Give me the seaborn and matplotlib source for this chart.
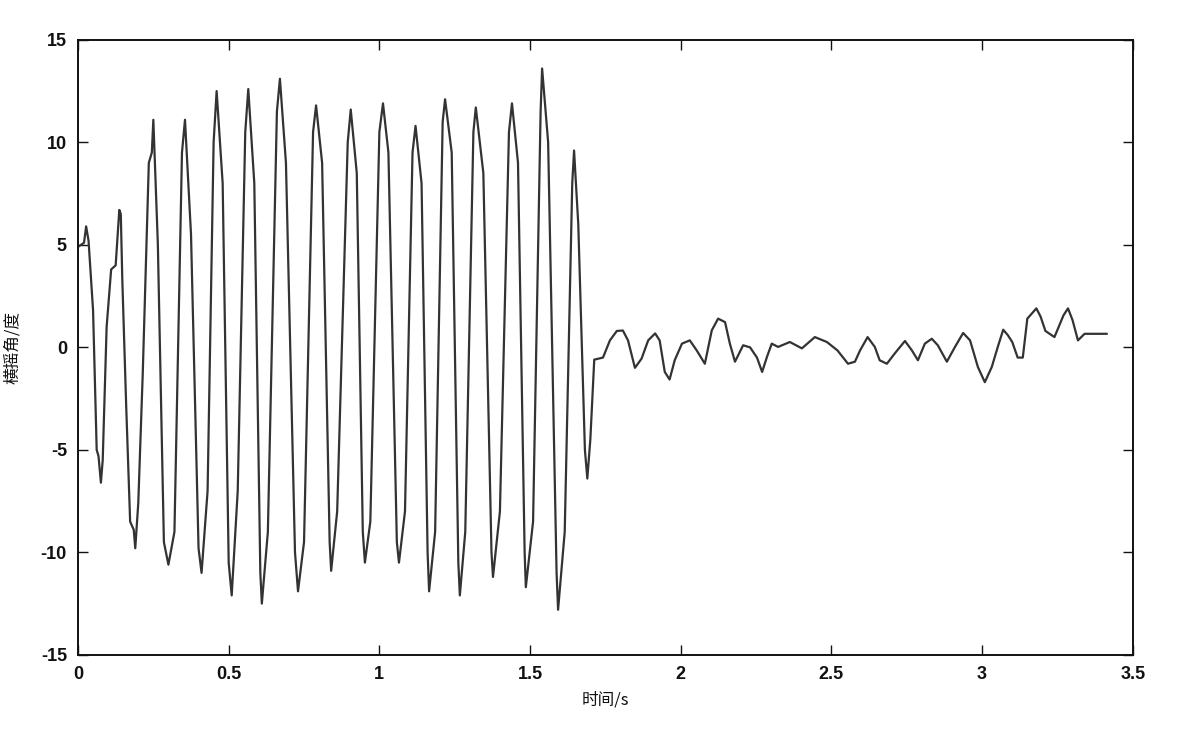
import matplotlib
matplotlib.use("Agg")
import matplotlib.pyplot as plt
import seaborn as sns
import pandas as pd

# time (s) and roll angle (deg)
# large-amplitude part (0 - 1.715 s)
time_big = [0.000, 0.020, 0.027, 0.035, 0.050, 0.062, 0.068, 0.076, 0.082, 0.095,
            0.110, 0.125, 0.137, 0.142, 0.147, 0.160, 0.173, 0.185, 0.190, 0.200,
            0.215, 0.235, 0.245, 0.250, 0.265, 0.285, 0.300, 0.320, 0.345, 0.355,
            0.375, 0.400, 0.410, 0.430, 0.450, 0.460, 0.480, 0.500, 0.510, 0.530,
            0.555, 0.565, 0.585, 0.605, 0.610, 0.630, 0.660, 0.670, 0.690, 0.720,
            0.730, 0.750, 0.780, 0.790, 0.810, 0.835, 0.840, 0.860, 0.895, 0.905,
            0.925, 0.945, 0.952, 0.970, 1.000, 1.012, 1.030, 1.058, 1.065, 1.085,
            1.110, 1.120, 1.140, 1.160, 1.165, 1.185, 1.210, 1.218, 1.240, 1.262,
            1.267, 1.285, 1.312, 1.320, 1.345, 1.372, 1.377, 1.400, 1.430, 1.440,
            1.460, 1.482, 1.486, 1.510, 1.535, 1.540, 1.560, 1.588, 1.593, 1.615,
            1.640, 1.646, 1.660, 1.682, 1.690, 1.700, 1.713]
roll_big = [4.9, 5.1, 5.9, 5.2, 1.8, -5.0, -5.3, -6.6, -5.5, 1.0,
            3.8, 4.0, 6.7, 6.5, 3.3, -2.9, -8.5, -8.9, -9.8, -7.6,
            -1.2, 9.0, 9.5, 11.1, 5.0, -9.5, -10.6, -9.0, 9.5, 11.1,
            5.5, -9.8, -11.0, -7.0, 10.0, 12.5, 8.0, -10.5, -12.1, -7.0,
            10.5, 12.6, 8.0, -11.0, -12.5, -9.0, 11.5, 13.1, 9.0, -10.0,
            -11.9, -9.5, 10.5, 11.8, 9.0, -9.5, -10.9, -8.0, 10.0, 11.6,
            8.5, -9.0, -10.5, -8.5, 10.5, 11.9, 9.5, -9.5, -10.5, -8.0,
            9.5, 10.8, 8.0, -10.0, -11.9, -9.0, 11.0, 12.1, 9.5, -10.5,
            -12.1, -9.0, 10.5, 11.7, 8.5, -10.0, -11.2, -8.0, 10.5, 11.9,
            9.0, -10.0, -11.7, -8.5, 11.5, 13.6, 10.0, -11.0, -12.8, -9.0,
            8.0, 9.6, 6.0, -5.0, -6.4, -4.5, -0.6]

# small-amplitude part (1.715 - 3.414 s)
time_small = [1.742, 1.765, 1.788, 1.808, 1.825, 1.848, 1.870, 1.892, 1.915, 1.930,
              1.947, 1.963, 1.980, 2.004, 2.030, 2.053, 2.080, 2.103, 2.124, 2.147,
              2.163, 2.180, 2.207, 2.230, 2.253, 2.270, 2.286, 2.302, 2.323, 2.362,
              2.402, 2.445, 2.485, 2.520, 2.555, 2.578, 2.595, 2.620, 2.644, 2.660,
              2.684, 2.710, 2.744, 2.767, 2.787, 2.810, 2.833, 2.853, 2.883, 2.910,
              2.937, 2.960, 2.986, 3.009, 3.032, 3.052, 3.070, 3.085, 3.100, 3.118,
              3.135, 3.150, 3.180, 3.194, 3.210, 3.240, 3.270, 3.285, 3.300, 3.318,
              3.340, 3.414]
roll_small = [-0.5, 0.34, 0.8, 0.82, 0.34, -1.0, -0.55, 0.34, 0.68, 0.34,
              -1.2, -1.57, -0.63, 0.18, 0.34, -0.15, -0.8, 0.83, 1.4, 1.23,
              0.18, -0.7, 0.1, 0.0, -0.5, -1.2, -0.47, 0.18, 0.02, 0.26,
              -0.05, 0.5, 0.26, -0.15, -0.8, -0.7, -0.15, 0.5, 0.02, -0.63,
              -0.8, -0.3, 0.31, -0.15, -0.63, 0.18, 0.42, 0.1, -0.7, 0.02,
              0.7, 0.34, -0.96, -1.7, -0.96, 0.02, 0.86, 0.6, 0.26, -0.5,
              -0.5, 1.4, 1.9, 1.5, 0.8, 0.5, 1.56, 1.9, 1.33, 0.34,
              0.66, 0.66]

x_ticks = [0, 0.5, 1, 1.5, 2, 2.5, 3, 3.5]
x_tick_labels = ["0", "0.5", "1", "1.5", "2", "2.5", "3", "3.5"]
y_ticks = [-15, -10, -5, 0, 5, 10, 15]
y_tick_labels = ["-15", "-10", "-5", "0", "5", "10", "15"]
x_label = "时间/s"
y_label = "横摇角/度"

df = pd.DataFrame({"t": time_big + time_small, "roll": roll_big + roll_small})

sns.set_theme(style="white")
plt.rcParams["font.family"] = ["Noto Sans CJK SC", "DejaVu Sans"]

fig = plt.figure(figsize=(12, 7.51), dpi=100)
ax = fig.add_axes([0.065, 0.128, 0.879, 0.819])

sns.lineplot(data=df, x="t", y="roll", sort=False, estimator=None,
             color="#333333", linewidth=1.6, ax=ax)

ax.set_xlim(0, 3.5)
ax.set_ylim(-15, 15)
ax.set_xticks(x_ticks)
ax.set_xticklabels(x_tick_labels, fontsize=13, fontweight="bold",
                   family=["Liberation Sans", "DejaVu Sans"])
ax.set_yticks(y_ticks)
ax.set_yticklabels(y_tick_labels, fontsize=13, fontweight="bold",
                   family=["Liberation Sans", "DejaVu Sans"])
ax.tick_params(direction="in", length=7, width=1.0, top=True, right=True,
               bottom=True, left=True, labeltop=False, labelright=False,
               colors="#111111", pad=8)
for s in ax.spines.values():
    s.set_visible(True)
    s.set_color("#111111")
    s.set_linewidth(1.4)

ax.set_xlabel(x_label, fontsize=12, labelpad=6, color="#111111")
ax.set_ylabel(y_label, fontsize=12, labelpad=14, color="#111111")

fig.savefig("out.png", dpi=100, facecolor="white")
